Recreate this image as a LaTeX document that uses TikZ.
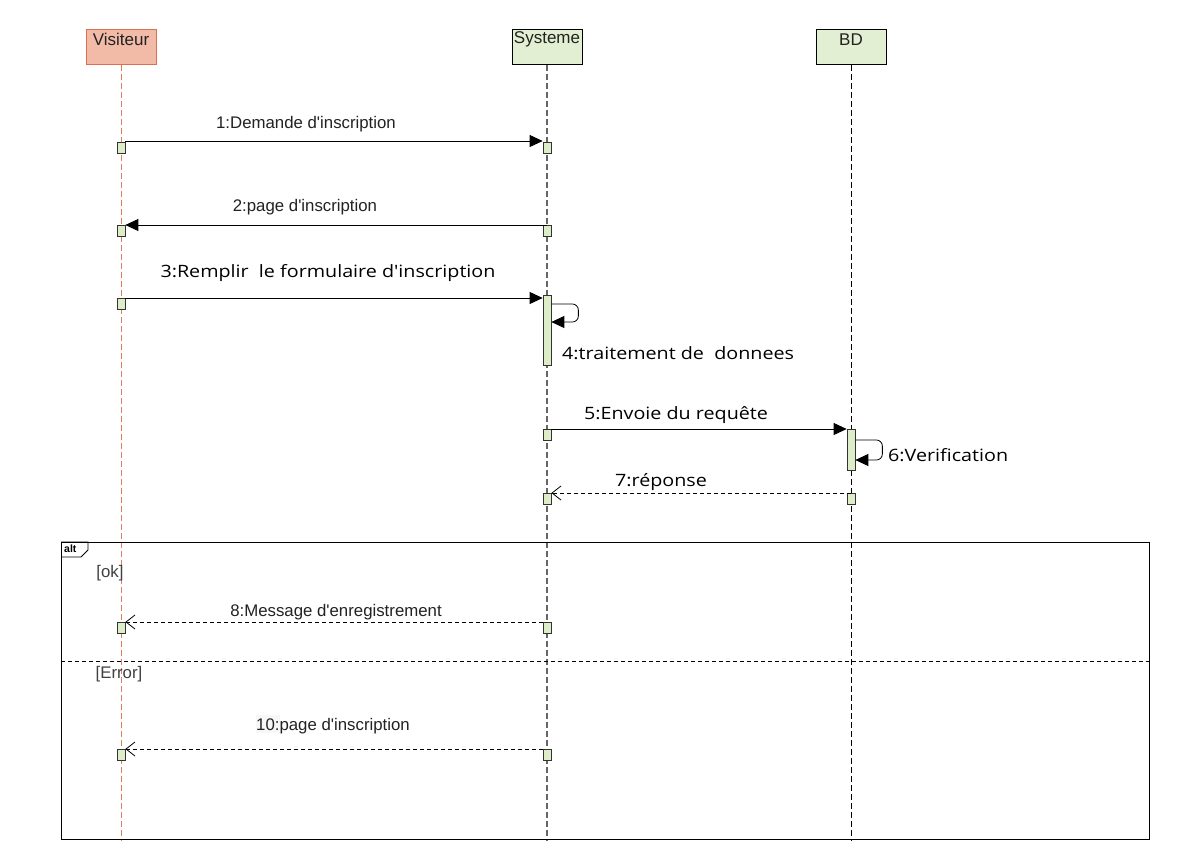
\documentclass[tikz,border=0pt]{standalone}
\usepackage{fontspec}
\setmainfont{Liberation Sans}
\newfontfamily\osfont{Open Sans}
\usetikzlibrary{arrows.meta,calc}
\definecolor{visfill}{HTML}{F2BBA8}
\definecolor{visdraw}{HTML}{DC6F50}
\definecolor{grfill}{HTML}{E3EFD3}
\definecolor{actfill}{HTML}{DDEDC8}
\definecolor{txt}{HTML}{222222}
\newcommand\aq{\textquotesingle}
\newcommand\wide[1]{\scalebox{1.16}[1]{#1}}
\tikzset{
  head/.style={draw, minimum width=70pt, minimum height=35pt, inner sep=0pt, anchor=north, line width=0.8pt},
  headtxt/.style={font=\fontsize{17}{19}\selectfont, text=txt, inner sep=0pt},
  act/.style={draw=black!80, fill=actfill, minimum width=8pt, inner sep=0pt, anchor=north, line width=0.7pt},
  msgsmall/.style={font=\fontsize{16.8}{19}\selectfont, text=txt, inner sep=0pt, yshift=-2pt},
  msgbig/.style={font=\osfont\fontsize{17}{20}\selectfont, text=black, inner sep=0pt, yshift=-1.5pt},
  sync/.style={line width=0.8pt, -{Triangle[length=13pt,width=12pt]}},
  reply/.style={line width=0.8pt, dash pattern=on 4pt off 3pt, -{Straight Barb[length=9pt,width=14pt,line width=0.8pt]}},
  selfloop/.style={line width=0.8pt, rounded corners=6pt, -{Triangle[length=13pt,width=12pt]}},
}
\begin{document}
\begin{tikzpicture}[x=1pt,y=-1pt]
\useasboundingbox[fill=white] (0,0) rectangle (1202,841);

% headers
\node[head, draw=visdraw, fill=visfill] (vis) at (121,29) {};
\node[head, draw=black, fill=grfill] (sys) at (547,29) {};
\node[head, draw=black, fill=grfill] (bd) at (851,29) {};
\node[headtxt] (visT) at (121,39.5) {Visiteur};
\node[headtxt] (sysT) at (547,39.5) {Systeme};
\node[headtxt] (bdT) at (851,39.5) {BD};

% lifelines
\coordinate (visEnd) at (121,841);
\coordinate (sysEnd) at (547,841);
\coordinate (bdEnd) at (851,841);
\draw[visdraw!90, line width=0.7pt, dash pattern=on 6pt off 3pt] (vis.south) -- (visEnd);
\draw[black!60, line width=1.5pt, dash pattern=on 6pt off 3pt] (sys.south) -- (sysEnd);
\draw[black, line width=0.8pt, dash pattern=on 6pt off 3pt] (bd.south) -- (bdEnd);

% activation boxes
\node[act, minimum height=11pt] (v1) at (121,142) {};
\node[act, minimum height=11pt] (s1) at (547,142) {};
\node[act, minimum height=11pt] (v2) at (121,225) {};
\node[act, minimum height=11pt] (s2) at (547,225) {};
\node[act, minimum height=11pt] (v3) at (121,298) {};
\node[act, minimum height=70pt] (s3) at (547,295) {};
\node[act, minimum height=11pt] (s5) at (547,429) {};
\node[act, minimum height=41pt] (b5) at (851,429) {};
\node[act, minimum height=11pt] (s7) at (547,493) {};
\node[act, minimum height=11pt] (b7) at (851,493) {};
\node[act, minimum height=11pt] (v8) at (121,622) {};
\node[act, minimum height=11pt] (s8) at (547,622) {};
\node[act, minimum height=11pt] (v10) at (121,749) {};
\node[act, minimum height=11pt] (s10) at (547,749) {};

% messages
\draw[sync] ([yshift=1pt]v1.north east) -- ([yshift=1pt]s1.north west);
\node[msgsmall] (l1) at (306,122) {1:Demande d\aq inscription};

\draw[sync] (s2.north) -- (v2.north east);
\node[msgsmall] (l2) at (305,205) {2:page d\aq inscription};

\draw[sync] (v3.north east) -- (s3.west |- v3.north);
\node[msgbig] (l3) at (328,271.5) {\wide{3:Remplir\ \ le formulaire d\aq inscription}};

\draw[selfloop] ([yshift=-9pt]s3.north east) -- ++(27,0) -- ++(0,18) -- ([yshift=-27pt]s3.north east);
\node[msgbig, anchor=west] (l4) at (562,351.5) {\wide{4:traitement de\ \ donnees}};

\draw[sync] (s5.north east) -- (b5.north west);
\node[msgbig] (l5) at (676,414) {\wide{5:Envoie du requête}};

\draw[selfloop] ([yshift=-11pt]b5.north east) -- ++(27,0) -- ++(0,20) -- ([yshift=-31pt]b5.north east);
\node[msgbig, anchor=west] (l6) at (888,454) {\wide{6:Verification}};

\draw[reply] (b7.north) -- (s7.north east);
\node[msgbig] (l7) at (661,480.5) {\wide{7:réponse}};

% alt frame
\node[draw, line width=0.8pt, minimum width=1088pt, minimum height=297pt, inner sep=0pt, anchor=north west] (frame) at (61,542) {};
\draw[line width=0.8pt] (frame.north west) -- ++(27,0) -- ++(0,8) -- ++(-7,7) -- ([yshift=-15pt]frame.north west);
\node[font=\bfseries\fontsize{10.5}{12}\selectfont, anchor=west, inner sep=0pt] (altT) at (64,549) {alt};
\node[msgsmall, text=black!75, yshift=2pt] (ok) at (110,573) {[ok]};
\draw[line width=0.8pt, dash pattern=on 4pt off 3pt] (frame.west |- 0,661) -- (frame.east |- 0,661);
\node[msgsmall, text=black!75, yshift=2pt] (err) at (119,674) {[Error]};

\draw[reply] (s8.north west) -- (v8.north east);
\node[msgsmall] (l8) at (336,610.5) {8:Message d\aq enregistrement};

\draw[reply] (s10.north west) -- (v10.north east);
\node[msgsmall] (l10) at (333,722.5) {\colorbox{black!3}{\hspace*{-3pt}10:\hspace*{-3pt}}page d\aq inscription};
\end{tikzpicture}
\end{document}
